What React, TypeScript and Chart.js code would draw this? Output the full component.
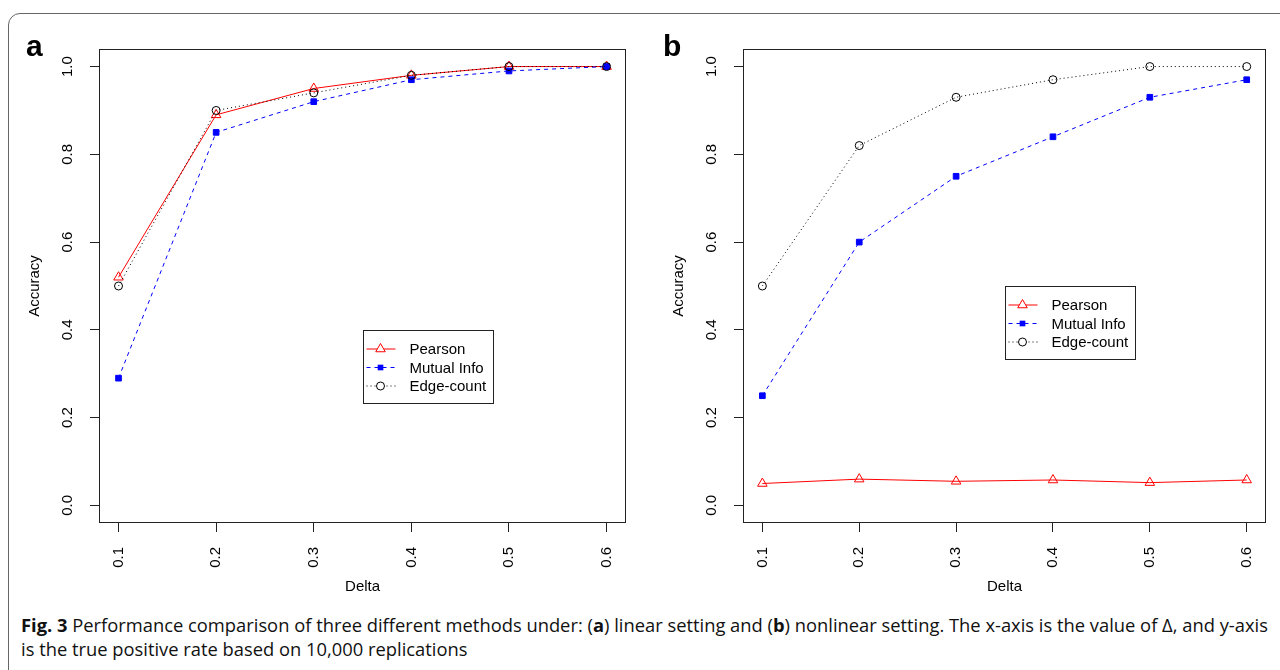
import React, { useEffect, useLayoutEffect, useRef, useState } from 'react';
import { Chart, registerables } from 'chart.js';

Chart.register(...registerables);

// ---------- data ----------
const deltas = [0.1, 0.2, 0.3, 0.4, 0.5, 0.6];
const xTickValues = [0.1, 0.2, 0.3, 0.4, 0.5, 0.6];
const xTickLabels = ['0.1', '0.2', '0.3', '0.4', '0.5', '0.6'];
const yTickValues = [0, 0.2, 0.4, 0.6, 0.8, 1.0];
const yTickLabels = ['0.0', '0.2', '0.4', '0.6', '0.8', '1.0'];
const seriesNames = ['Pearson', 'Mutual Info', 'Edge-count'];

const linearPearson = [0.52, 0.89, 0.95, 0.98, 1.0, 1.0];
const linearMutual = [0.29, 0.85, 0.92, 0.97, 0.99, 1.0];
const linearEdge = [0.5, 0.9, 0.94, 0.98, 1.0, 1.0];

const nonlinearPearson = [0.05, 0.06, 0.055, 0.058, 0.052, 0.058];
const nonlinearMutual = [0.25, 0.6, 0.75, 0.84, 0.93, 0.97];
const nonlinearEdge = [0.5, 0.82, 0.93, 0.97, 1.0, 1.0];

const xAxisTitle = 'Delta';
const yAxisTitle = 'Accuracy';
const captionBold = 'Fig. 3';
const captionLine1 =
  ' Performance comparison of three different methods under: (';
const captionLine2 = 'is the true positive rate based on 10,000 replications';

// ---------- styles ----------
const FONT = '"Liberation Sans", Arial, Helvetica, sans-serif';
const AXIS_FONT_SIZE = 15;
const seriesStyles = [
  { color: '#ff0000', dash: [] as number[], point: 'triangle', radius: 5.5, fill: 'rgba(0,0,0,0)', order: 2 },
  { color: '#0000ff', dash: [4, 4], point: 'rect', radius: 4, fill: '#0000ff', order: 1 },
  { color: '#000000', dash: [1, 3], point: 'circle', radius: 4, fill: 'rgba(0,0,0,0)', order: 0 },
];

const boxPlugin = {
  id: 'rBox',
  afterDraw(chart: any) {
    const { ctx, chartArea: a } = chart;
    ctx.save();
    ctx.strokeStyle = '#222';
    ctx.lineWidth = 1;
    ctx.setLineDash([]);
    ctx.strokeRect(Math.round(a.left) + 0.5, Math.round(a.top) + 0.5, Math.round(a.right - a.left) - 1, Math.round(a.bottom - a.top) - 1);
    ctx.restore();
  },
};

function drawMarker(ctx: CanvasRenderingContext2D, kind: string, x: number, y: number, r: number, color: string, fill: string) {
  ctx.save();
  ctx.setLineDash([]);
  ctx.strokeStyle = color;
  ctx.fillStyle = fill;
  ctx.lineWidth = 1;
  ctx.beginPath();
  if (kind === 'triangle') {
    const a = (2 * Math.PI) / 3;
    ctx.moveTo(x, y - r);
    ctx.lineTo(x + Math.sin(a) * r, y - Math.cos(a) * r);
    ctx.lineTo(x + Math.sin(2 * a) * r, y - Math.cos(2 * a) * r);
    ctx.closePath();
    ctx.fill();
    ctx.stroke();
  } else if (kind === 'rect') {
    const s = Math.SQRT1_2 * r;
    ctx.rect(x - s, y - s, 2 * s, 2 * s);
    ctx.fill();
  } else {
    ctx.arc(x, y, r, 0, Math.PI * 2);
    ctx.fill();
    ctx.stroke();
  }
  ctx.restore();
}

const legendPlugin = {
  id: 'rLegend',
  afterDatasetsDraw(chart: any, _args: any, opts: any) {
    const { ctx } = chart;
    const xs = chart.scales.x;
    const ys = chart.scales.y;
    const left = Math.round(xs.getPixelForValue(opts.x)) + 0.5;
    const top = Math.round(ys.getPixelForValue(opts.y)) + 0.5;
    ctx.save();
    ctx.fillStyle = '#fff';
    ctx.fillRect(left, top, 130, 73);
    ctx.strokeStyle = '#222';
    ctx.lineWidth = 1;
    ctx.strokeRect(left, top, 130, 73);
    chart.data.datasets.forEach((ds: any, i: number) => {
      const yy = top + 18.5 + i * 18.5;
      ctx.save();
      ctx.strokeStyle = ds.borderColor;
      ctx.lineWidth = 1;
      ctx.setLineDash(ds.borderDash || []);
      ctx.beginPath();
      ctx.moveTo(left + 3, yy);
      ctx.lineTo(left + 32, yy);
      ctx.stroke();
      ctx.restore();
      drawMarker(ctx, ds.pointStyle, left + 17, yy, ds.pointRadius, ds.pointBorderColor, ds.pointBackgroundColor === 'rgba(0,0,0,0)' ? '#fff' : ds.pointBackgroundColor);
      ctx.fillStyle = '#000';
      ctx.font = `15px ${FONT}`;
      ctx.textBaseline = 'middle';
      ctx.textAlign = 'left';
      ctx.fillText(ds.label, left + 46, yy + 1);
    });
    ctx.restore();
  },
};

function makeConfig(series: number[][], legendX: number, legendY: number, padRight: number): any {
  return {
    type: 'line',
    data: {
      datasets: series.map((vals, i) => {
        const st = seriesStyles[i];
        return {
          label: seriesNames[i],
          data: deltas.map((d, j) => ({ x: d, y: vals[j] })),
          borderColor: st.color,
          backgroundColor: st.fill,
          borderWidth: 1,
          borderDash: st.dash,
          pointStyle: st.point,
          pointRadius: st.radius,
          pointBorderWidth: 1,
          pointBorderColor: st.color,
          pointBackgroundColor: st.fill,
          tension: 0,
          fill: false,
          order: st.order,
        };
      }),
    },
    options: {
      animation: false,
      responsive: false,
      events: [],
      layout: { padding: { left: 0, top: 49, right: padRight, bottom: 4 } },
      plugins: {
        legend: { display: false },
        tooltip: { enabled: false },
        rLegend: { x: legendX, y: legendY },
      },
      scales: {
        x: {
          type: 'linear',
          min: 0.08,
          max: 0.62,
          afterBuildTicks: (s: any) => {
            s.ticks = xTickValues.map((v) => ({ value: v }));
          },
          afterFit: (s: any) => {
            s.height = 73;
          },
          ticks: {
            autoSkip: false,
            minRotation: 90,
            maxRotation: 90,
            padding: 15,
            color: '#000',
            font: { family: FONT, size: AXIS_FONT_SIZE },
            callback: (_v: any, i: number) => xTickLabels[i],
          },
          grid: { drawOnChartArea: false, drawTicks: true, tickLength: 9, color: '#222', lineWidth: 1 },
          border: { display: false },
          title: { display: true, text: xAxisTitle, color: '#000', font: { family: FONT, size: AXIS_FONT_SIZE }, padding: { top: 0, bottom: 0 } },
        },
        y: {
          type: 'linear',
          min: -0.04,
          max: 1.04,
          afterBuildTicks: (s: any) => {
            s.ticks = yTickValues.map((v) => ({ value: v }));
          },
          afterFit: (s: any) => {
            s.width = 99;
          },
          ticks: {
            autoSkip: false,
            minRotation: 90,
            maxRotation: 90,
            crossAlign: 'center',
            padding: 12,
            color: '#000',
            font: { family: FONT, size: AXIS_FONT_SIZE },
            callback: (_v: any, i: number) => yTickLabels[i],
          },
          grid: { drawOnChartArea: false, drawTicks: true, tickLength: 9, color: '#222', lineWidth: 1 },
          border: { display: false },
          title: { display: true, text: yAxisTitle, color: '#000', font: { family: FONT, size: AXIS_FONT_SIZE }, padding: { top: 26, bottom: 0 } },
        },
      },
    },
    plugins: [boxPlugin, legendPlugin],
  };
}

function Panel(props: { series: number[][]; lx: number; ly: number; left: number; width: number; padRight: number }) {
  const ref = useRef<HTMLCanvasElement>(null);
  useEffect(() => {
    const chart = new Chart(ref.current as HTMLCanvasElement, makeConfig(props.series, props.lx, props.ly, props.padRight));
    return () => chart.destroy();
  }, []);
  return (
    <canvas
      ref={ref}
      width={props.width}
      height={600}
      style={{ position: 'absolute', left: props.left, top: 0, width: props.width, height: 600 }}
    />
  );
}

function Caption() {
  const ref = useRef<HTMLDivElement>(null);
  const [scale, setScale] = useState(1);
  useLayoutEffect(() => {
    if (ref.current) {
      const w = ref.current.offsetWidth;
      if (w > 0) setScale(1247 / w);
    }
  }, []);
  const lineStyle: React.CSSProperties = {
    position: 'absolute',
    left: 21,
    whiteSpace: 'nowrap',
    display: 'inline-block',
    fontFamily: '"Liberation Sans Narrow", "Open Sans", sans-serif',
    fontSize: 18,
    lineHeight: '24px',
    color: '#111',
    transform: `scaleX(${scale})`,
    transformOrigin: 'left center',
  };
  return (
    <>
      <div ref={ref} style={{ ...lineStyle, top: 613 }}>
        <b>{captionBold}</b>
        {captionLine1}
        <b>a</b>
        {') linear setting and ('}
        <b>b</b>
        {') nonlinear setting. The x-axis is the value of Δ, and y-axis'}
      </div>
      <div style={{ ...lineStyle, top: 637 }}>{captionLine2}</div>
    </>
  );
}

export default function App() {
  const letter: React.CSSProperties = {
    position: 'absolute',
    top: 31,
    fontFamily: FONT,
    fontWeight: 'bold',
    fontSize: 30,
    lineHeight: '30px',
    color: '#000',
  };
  return (
    <div style={{ position: 'absolute', left: 0, top: 0, width: 1280, height: 670, overflow: 'hidden', background: '#fff' }}>
      <div
        style={{
          position: 'absolute',
          left: 8,
          top: 13,
          width: 1320,
          height: 720,
          border: '1px solid #666',
          borderRadius: 12,
          boxSizing: 'border-box',
        }}
      />
      <Panel series={[linearPearson, linearMutual, linearEdge]} lx={0.35} ly={0.4} left={0} width={640} padRight={11} />
      <Panel series={[nonlinearPearson, nonlinearMutual, nonlinearEdge]} lx={0.35} ly={0.5} left={644} width={636} padRight={8} />
      <div style={{ ...letter, left: 26 }}>a</div>
      <div style={{ ...letter, left: 663 }}>b</div>
      <Caption />
    </div>
  );
}
